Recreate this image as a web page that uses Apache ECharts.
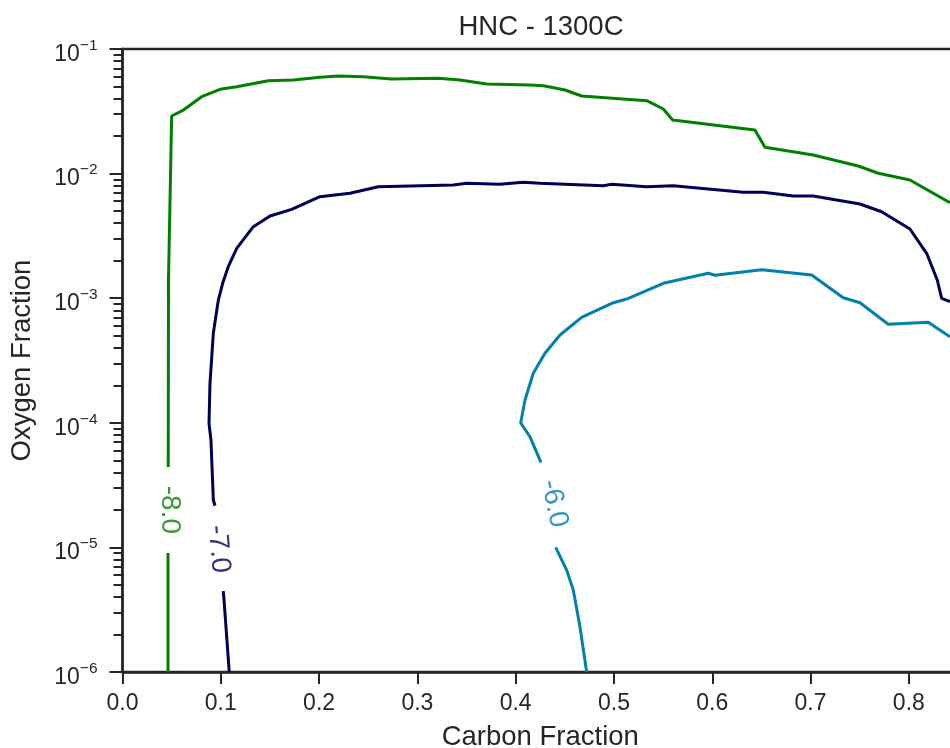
<!DOCTYPE html>
<html>
<head>
<meta charset="utf-8">
<script src="https://cdn.jsdelivr.net/npm/echarts@6/dist/echarts.min.js"></script>
<style>
html,body{margin:0;padding:0;background:#fff;}
#chart{width:950px;height:748px;}
</style>
</head>
<body>
<div id="chart"></div>
<script>
// Contour level names
var levelLabels = ['-8.0', '-7.0', '-6.0'];

// Contour level -8.0 (green) : [carbon fraction, oxygen fraction]; '-' marks the label gap
var contourM8 = [
  [0.0463, 1.0e-6], [0.0463, 9.0e-6], ['-', '-'],
  [0.0465, 4.42e-5], [0.0468, 1.40e-3], [0.0500, 0.0290], [0.0619, 0.03236],
  [0.0806, 0.04140], [0.0992, 0.04746], [0.1162, 0.04982], [0.1483, 0.05566],
  [0.1738, 0.05638], [0.2009, 0.05927], [0.2195, 0.06071], [0.2450, 0.05994],
  [0.2739, 0.05744], [0.3213, 0.05818], [0.3433, 0.05638], [0.3705, 0.05237],
  [0.4145, 0.05141], [0.4281, 0.05074], [0.4502, 0.04688], [0.4671, 0.04195],
  [0.5333, 0.03847], [0.5502, 0.03300], [0.5597, 0.02693], [0.6434, 0.02239],
  [0.6536, 0.01626], [0.7027, 0.01410], [0.7485, 0.01151], [0.7689, 0.01006],
  [0.8011, 0.00888], [0.8418, 0.00584]
];

// Contour level -7.0 (navy)
var contourM7 = [
  [0.1086, 1.0e-6], [0.1033, 3.781e-6], [0.1025, 4.467e-6], ['-', '-'],
  [0.0941, 2.160e-5], [0.0924, 2.400e-5], [0.0900, 7.274e-5], [0.0880, 9.906e-5],
  [0.0890, 2.074e-4], [0.0924, 5.227e-4], [0.0975, 9.672e-4], [0.1019, 1.317e-3],
  [0.1076, 1.789e-3], [0.1162, 2.514e-3], [0.1331, 3.748e-3], [0.1501, 4.567e-3],
  [0.1721, 5.169e-3], [0.2009, 6.524e-3], [0.2314, 6.946e-3], [0.2602, 7.847e-3],
  [0.3365, 8.099e-3], [0.3502, 8.357e-3], [0.3840, 8.204e-3], [0.4077, 8.513e-3],
  [0.4247, 8.357e-3], [0.4891, 7.994e-3], [0.4977, 8.204e-3], [0.5333, 7.847e-3],
  [0.5603, 7.994e-3], [0.6315, 7.077e-3], [0.6519, 7.077e-3], [0.6824, 6.611e-3],
  [0.7027, 6.611e-3], [0.7503, 5.702e-3], [0.7723, 4.944e-3], [0.8011, 3.592e-3],
  [0.8181, 2.293e-3], [0.8289, 1.400e-3], [0.8334, 9.98e-4], [0.8418, 9.37e-4]
];

// Contour level -6.0 (teal)
var contourM6 = [
  [0.4722, 1.0e-6], [0.4654, 2.309e-6], [0.4586, 4.548e-6], [0.4519, 6.582e-6],
  [0.4407, 1.001e-5], ['-', '-'],
  [0.4257, 4.818e-5], [0.4145, 7.734e-5], [0.4051, 1.0016e-4], [0.4095, 1.524e-4],
  [0.4179, 2.496e-4], [0.4298, 3.611e-4], [0.4451, 5.066e-4], [0.4671, 7.024e-4],
  [0.4977, 9.10e-4], [0.5129, 9.85e-4], [0.5502, 1.317e-3], [0.5959, 1.584e-3],
  [0.6027, 1.527e-3], [0.6503, 1.693e-3], [0.6519, 1.653e-3], [0.7011, 1.535e-3],
  [0.7333, 1.009e-3], [0.7503, 9.20e-4], [0.7790, 6.172e-4], [0.8197, 6.405e-4],
  [0.8418, 4.909e-4]
];

// Where each contour label sits (data coordinates)
var labelAnchors = [[0.0483, 2.0e-5], [0.0977, 9.7e-6], [0.4390, 2.25e-5]];

// X tick labels
var xTickValues = [0, 0.1, 0.2, 0.3, 0.4, 0.5, 0.6, 0.7, 0.8];

var FONT = '"Liberation Sans", Arial, Helvetica, sans-serif';
var INK = '#262626';
var colors = ['#008000', '#000055', '#0080aa'];
var labelRot = [-90, -85, -78];

var minorTicks = [];
for (var d = -6; d < -1; d++) {
  for (var k = 2; k <= 9; k++) minorTicks.push(d + Math.log10(k));
}

var chart = echarts.init(document.getElementById('chart'), null, {renderer: 'canvas'});

var lineSeries = [contourM8, contourM7, contourM6].map(function (data, i) {
  return {
    type: 'line',
    data: data,
    xAxisIndex: 0,
    yAxisIndex: 0,
    showSymbol: false,
    symbol: 'none',
    connectNulls: false,
    silent: true,
    lineStyle: {color: colors[i], width: 3},
    itemStyle: {color: colors[i]},
    z: 3
  };
});

var labelSeries = {
  type: 'scatter',
  xAxisIndex: 0,
  yAxisIndex: 0,
  symbolSize: 0.1,
  silent: true,
  itemStyle: {color: 'rgba(0,0,0,0)'},
  data: labelAnchors.map(function (p, i) {
    return {
      value: p,
      label: {
        show: true,
        formatter: levelLabels[i],
        position: 'inside',
        rotate: labelRot[i],
        color: colors[i],
        fontSize: 28,
        fontFamily: FONT,
        align: 'center',
        verticalAlign: 'middle'
      }
    };
  }),
  z: 4
};

chart.setOption({
  animation: false,
  backgroundColor: '#ffffff',
  title: {
    text: 'HNC - 1300C',
    left: 536,
    top: 8,
    textAlign: 'center',
    textStyle: {fontSize: 27.5, fontWeight: 'normal', color: INK, fontFamily: FONT}
  },
  grid: {
    left: 122.5, top: 49, width: 835.5, height: 623,
    outerBoundsMode: 'none',
    containLabel: false,
    show: true, borderColor: INK, borderWidth: 2.5, backgroundColor: 'rgba(0,0,0,0)'
  },
  xAxis: {
    type: 'value',
    min: 0, max: 0.85, interval: 0.1,
    name: 'Carbon Fraction',
    nameLocation: 'middle',
    nameGap: 51,
    nameTextStyle: {fontSize: 27.5, color: INK, fontFamily: FONT},
    axisLine: {show: true, lineStyle: {color: INK, width: 2.5}},
    axisTick: {show: true, length: 12, lineStyle: {color: INK, width: 2}, customValues: xTickValues},
    axisLabel: {
      fontSize: 23, color: INK, fontFamily: FONT, margin: 20,
      customValues: xTickValues,
      formatter: function (v) { return v.toFixed(1); }
    },
    splitLine: {show: false}
  },
  yAxis: [{
    type: 'log',
    logBase: 10,
    min: 1e-6, max: 1e-1,
    name: 'Oxygen Fraction',
    nameLocation: 'middle',
    nameGap: 86,
    nameTextStyle: {fontSize: 27.5, color: INK, fontFamily: FONT},
    axisLine: {show: true, lineStyle: {color: INK, width: 2.5}},
    axisTick: {show: true, length: 13, lineStyle: {color: INK, width: 2}},
    minorTick: {show: false},
    splitLine: {show: false},
    axisLabel: {
      margin: 25,
      color: INK,
      fontFamily: FONT,
      formatter: function (v) {
        var e = Math.round(Math.log10(v));
        return '{a|10}{b|\u2212' + (-e) + '}';
      },
      rich: {
        a: {fontSize: 23, lineHeight: 23, padding: [11, 0, 0, 0], color: INK, fontFamily: FONT},
        b: {fontSize: 15.5, lineHeight: 15, verticalAlign: 'top', color: INK, fontFamily: FONT}
      }
    }
  }, {
    type: 'value',
    min: -6, max: -1,
    position: 'left',
    axisLine: {show: false},
    axisLabel: {show: false},
    splitLine: {show: false},
    axisTick: {show: true, length: 9, lineStyle: {color: INK, width: 2}, customValues: minorTicks}
  }],
  series: lineSeries.concat([labelSeries])
});
</script>
</body>
</html>
